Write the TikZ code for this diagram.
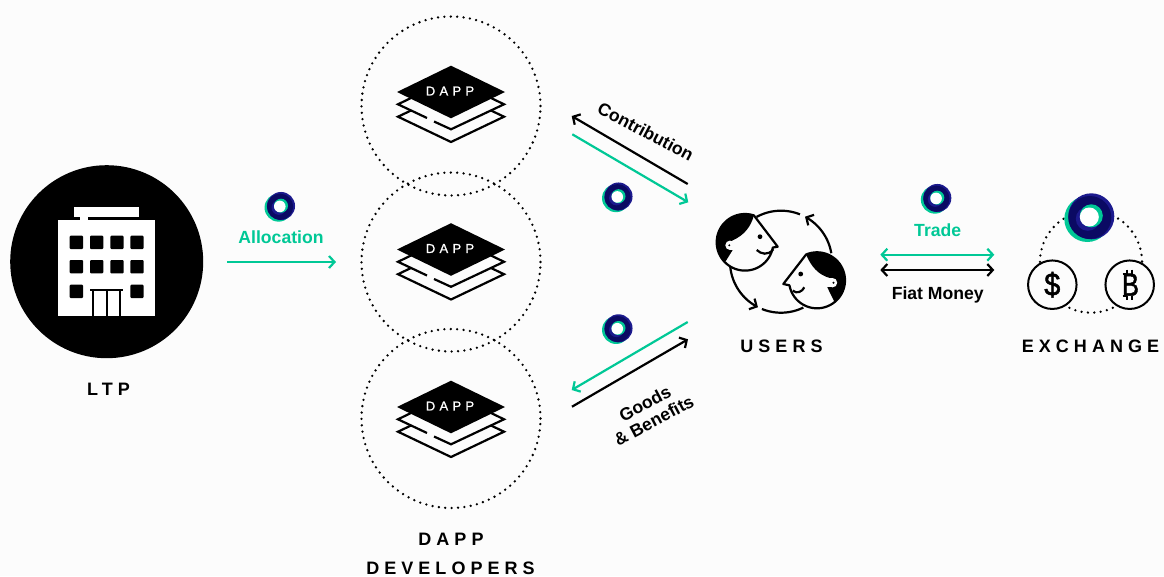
\documentclass[tikz,border=0pt]{standalone}
\usepackage{fontspec}
\usepackage{graphicx}
\usetikzlibrary{arrows.meta}
\setmainfont{Liberation Sans}
\newfontfamily\titlefont[LetterSpace=28]{Liberation Sans}
\newfontfamily\dappfont[LetterSpace=33,FakeBold=1]{Liberation Sans}
\newfontfamily\coinfont[FakeBold=1.5]{Liberation Sans}
\definecolor{bgc}{HTML}{FCFCFC}
\definecolor{mint}{HTML}{00C896}
\definecolor{navy}{HTML}{0B0A63}
\definecolor{royal}{HTML}{1C1A8E}
\definecolor{ink}{HTML}{000000}
\tikzset{
  barb/.style={-{Straight Barb[length=5.5pt,width=12pt]},line width=2.2pt},
  dbarb/.style={{Straight Barb[length=5.5pt,width=12pt]}-{Straight Barb[length=5.5pt,width=12pt]},line width=2.2pt},
  dotcircle/.style={circle,draw=ink,line width=2.6pt,line cap=round,dash pattern=on 0pt off 6.4pt,minimum size=179pt,inner sep=0pt,outer sep=0pt},
  coin/.style={circle,draw=ink,fill=bgc,line width=2pt,minimum size=48.5pt,inner sep=0pt,outer sep=0pt},
  title/.style={font=\titlefont\bfseries\fontsize{18}{20}\selectfont,text=ink,inner sep=0pt},
  edgelabel/.style={font=\bfseries\fontsize{17.6}{20}\selectfont,inner sep=0pt},
  facefill/.style={fill=bgc,draw=ink,line width=2.2pt,line join=round},
  dappstack/.pic={
    \fill[ink] (0,-26.3) -- (54,0) -- (0,26.3) -- (-54,0) -- cycle;
    \draw[line width=2.2pt,draw=ink,miter limit=10] (-39,5.5) -- (-53,12.3) -- (-24,26);
    \draw[line width=2.2pt,draw=ink,miter limit=10] (-17,29.5) -- (0,37.3) -- (53,12.3) -- (39,5.5);
    \draw[line width=2.2pt,draw=ink,miter limit=10] (-40,18.5) -- (-53,24.7) -- (0,50) -- (53,24.7) -- (40,18.5);
    \node[text=white,inner sep=0pt,font=\dappfont\fontsize{13}{15}\selectfont] (label) at (-1,-1) {DAPP};
  },
  ringicon/.pic={
    \fill[mint] (-4,2.7) circle (23);
    \fill[royal] (0,0) circle (23);
    \fill[navy] (-1.5,1.2) circle (21.5);
    \fill[royal] (-3.5,2.5) circle (12);
    \fill[mint] (0,-0.5) circle (11.5);
    \fill[white] (-2,0.7) circle (9.5);
  },
}
\begin{document}
\begin{tikzpicture}[x=1pt,y=-1pt]
\useasboundingbox (0,0) rectangle (1164,576);
\fill[bgc] (0,0) rectangle (1164,576);

% LTP
\node[circle,fill=ink,minimum size=193pt,inner sep=0pt,outer sep=0pt] (ltp) at (106.7,261.7) {};
\fill[white] (58.3,219.7) rectangle (155,316.3);
\fill[white] (74,207.3) rectangle (139,217);
\fill[white] (80,216) rectangle (88,220);
\foreach \wx in {69.7,90,110.3,130.3}{
  \foreach \wy in {235.7,260}{
    \fill[ink,rounded corners=1pt] (\wx,\wy) rectangle ++(13.4,13.3);
  }
}
\fill[ink,rounded corners=1pt] (69.7,284.7) rectangle ++(13.4,13.3);
\fill[ink,rounded corners=1pt] (130.3,284.7) rectangle ++(13.4,13.3);
\fill[ink] (90,289) rectangle (123.3,291);
\draw[ink,line width=2pt] (93.3,290) -- (93.3,316.3);
\draw[ink,line width=2pt] (106.7,290) -- (106.7,316.3);
\draw[ink,line width=2pt] (120,290) -- (120,316.3);
\node[title] (ltplabel) at (108.5,389) {LTP};

% Allocation
\pic at (281,206) [scale=0.61] {ringicon};
\node[edgelabel,text=mint] (alloc) at (281,237) {Allocation};
\coordinate (allocA) at (227,262);
\coordinate (allocB) at (336,262);
\draw[barb,mint] (allocA) -- (allocB);

% Dapp circles
\node[dotcircle] (dev1) at (451,106) {};
\node[dotcircle] (dev2) at (451,262) {};
\node[dotcircle] (dev3) at (451,418.5) {};
\pic (stackA) at (451,92) {dappstack};
\pic (stackB) at (451,249.5) {dappstack};
\pic (stackC) at (451,407) {dappstack};
\node[title] (devlabelA) at (451,539.5) {DAPP};
\node[title] (devlabelB) at (450.5,568.5) {DEVELOPERS};

% Contribution arrows
\coordinate (cA) at (687.7,184);
\coordinate (cB) at (571.7,116);
\coordinate (cC) at (572.3,134.3);
\coordinate (cD) at (688.3,202.3);
\draw[barb,ink] (cA) -- (cB);
\draw[barb,mint] (cC) -- (cD);
\node[edgelabel,rotate=-28,text=ink] (contrib) at (645.7,131.7) {Contribution};
\pic at (618.5,196.5) [scale=0.61] {ringicon};

% Goods arrows
\coordinate (gA) at (687.7,322);
\coordinate (gB) at (571.7,390);
\coordinate (gC) at (572,406.7);
\coordinate (gD) at (688,339.3);
\draw[barb,mint] (gA) -- (gB);
\draw[barb,ink] (gC) -- (gD);
\node[edgelabel,rotate=28,text=ink,align=center] (goods) at (649.5,412) {Goods\\[-1pt]\& Benefits};
\pic at (618.5,328.3) [scale=0.61] {ringicon};

% Users: cycle arcs
\draw[ink,line width=2.2pt] plot[domain=-118.7:-68.2,samples=30] ({781+51*cos(\x)},{261.7+51*sin(\x)});
\draw[barb,ink] plot[domain=-9.6:-61.9,samples=30] ({781+51*cos(\x)},{261.7+51*sin(\x)});
\draw[barb,ink] plot[domain=174.4:116.9,samples=30] ({781+51*cos(\x)},{261.7+51*sin(\x)});
\draw[ink,line width=2.2pt] plot[domain=112:64,samples=30] ({781+51*cos(\x)},{261.7+51*sin(\x)});

% Face 1
\draw[facefill] plot[domain=10.7:288.4,samples=70] ({745+28.3*cos(\x)},{242.3+28.3*sin(\x)}) -- (777.7,246.7) -- cycle;
\begin{scope}
  \clip (745,242.3) circle (28.3);
  \fill[ink] (753.9,215.4) .. controls (751,226) and (745,235) .. (732,240.7) -- (732.7,250) -- (726,260.7) -- (700,270) -- (700,200) -- (753.9,200) -- cycle;
\end{scope}
\fill[bgc] (730,245.3) circle (4.7);
\fill[bgc] (730,240.6) rectangle (735.5,250);
\fill[ink] (729.3,245.3) circle (1.1);
\fill[ink] (760,236.7) circle (2.4);
\draw[ink,line width=2.2pt] (756.7,250) .. controls (761,254) and (768,256) .. (773.3,249.3);

% Face 2
\draw[facefill] plot[domain=169.7:-113,samples=70] ({817+28*cos(\x)},{280.3+28*sin(\x)}) -- (783.3,284) -- cycle;
\begin{scope}
  \clip (817,280.3) circle (28);
  \fill[ink] (806,254.5) .. controls (811,266) and (818,275) .. (830,278) -- (827.3,287.3) -- (834,301) -- (860,310) -- (860,240) -- (806,240) -- cycle;
\end{scope}
\fill[bgc] (832.5,282.7) circle (4.7);
\fill[bgc] (827,278) rectangle (832.5,287.4);
\fill[ink] (833.5,282.7) circle (1.1);
\fill[ink] (800.7,274) circle (2.4);
\draw[ink,line width=2.2pt] (792.7,290.7) .. controls (797,294) and (802,292) .. (804.3,287.3);
\node[title] (userslabel) at (781.5,346) {USERS};

% Trade
\pic at (937.3,198) [scale=0.61] {ringicon};
\node[edgelabel,text=mint] (trade) at (937.7,230) {Trade};
\coordinate (tA) at (880.3,254.7);
\coordinate (tB) at (994.3,254.7);
\coordinate (fA) at (880.3,270);
\coordinate (fB) at (994.3,270);
\draw[dbarb,mint] (tA) -- (tB);
\draw[dbarb,ink] (fA) -- (fB);
\node[edgelabel,text=ink] (fiat) at (937.7,295) {Fiat Money};

% Exchange
\draw[ink,line width=2.6pt,line cap=round,dash pattern=on 0pt off 6.4pt] (1091,261.7) circle (51);
\node[coin,font=\coinfont\fontsize{32}{34}\selectfont] (usd) at (1052.3,284.7) {\scalebox{0.9}[1]{\$}};
\node[coin,font=\coinfont\fontsize{32}{34}\selectfont] (btc) at (1129.7,284.7) {\hspace{1.5pt}\scalebox{0.8}[1]{B}};
\draw[ink,line width=2pt] (1126.5,269.5) -- (1126.5,274) (1132,269.5) -- (1132,274) (1126.5,296) -- (1126.5,300) (1132,296) -- (1132,300)
  (1122.5,273.8) -- (1127,273.8) (1122.5,296.2) -- (1127,296.2);
\pic at (1091.3,216.3) {ringicon};
\node[title] (exlabel) at (1090.5,346) {EXCHANGE};
\end{tikzpicture}
\end{document}
